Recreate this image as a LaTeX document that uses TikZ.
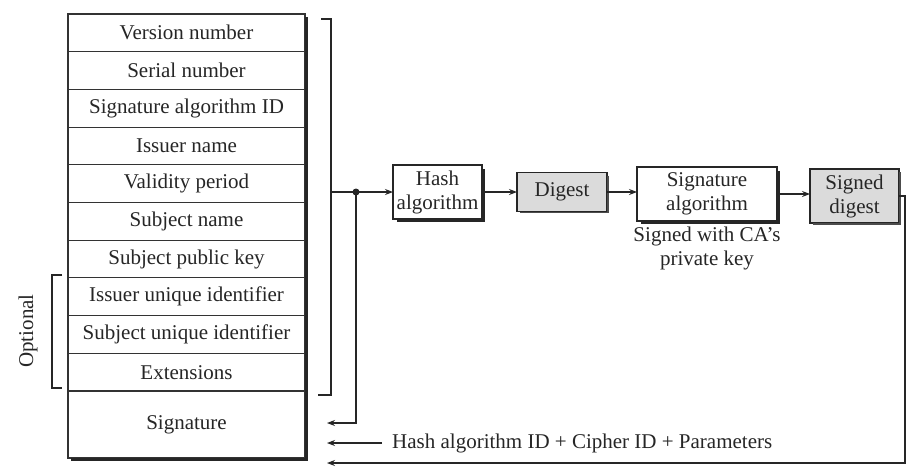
\documentclass[tikz,border=0pt]{standalone}
\usepackage{fontspec}
\setmainfont{Liberation Serif}
\usetikzlibrary{arrows.meta,calc}
\begin{document}
\begin{tikzpicture}[x=1pt,y=-1pt,
  font=\fontsize{21}{24}\selectfont,
  every node/.style={text=black!85},
  row/.style={draw=black!80, line width=1.1pt, minimum width=237pt, minimum height=37.7pt, inner sep=0pt, outer sep=0pt, anchor=north west},
  proc/.style={draw=black!85, line width=1.1pt, align=center, inner sep=0pt, outer sep=0pt, minimum height=54pt},
  shadedbox/.style={proc, fill=black!14},
  shadowline/.style={draw=black!85, line width=2.6pt},
  conn/.style={draw=black!85, line width=1.1pt},
  arr/.style={conn, -{Stealth[length=8pt,width=6pt]}},
  dotnode/.style={circle, fill=black!85, inner sep=0pt, minimum size=7pt}
]
\useasboundingbox (0,0) rectangle (920,472);
\fill[white] (0,0) rectangle (920,472);

% certificate table
\node[row] (r1) at (68,14) {Version number};
\node[row] (r2) at (r1.south west) {Serial number};
\node[row] (r3) at (r2.south west) {Signature algorithm ID};
\node[row] (r4) at (r3.south west) {Issuer name};
\node[row] (r5) at (r4.south west) {Validity period};
\node[row] (r6) at (r5.south west) {Subject name};
\node[row] (r7) at (r6.south west) {Subject public key};
\node[row] (r8) at (r7.south west) {Issuer unique identifier};
\node[row] (r9) at (r8.south west) {Subject unique identifier};
\node[row] (r10) at (r9.south west) {Extensions};
\node[row, minimum height=67pt] (r11) at (r10.south west) {Signature};
\draw[shadowline] ($(r1.north east)+(1.2,3)$) -- ($(r11.south east)+(1.2,1.2)$) -- ($(r11.south west)+(3,1.2)$);

% optional bracket
\coordinate (o1) at (62,275);
\coordinate (o2) at (52,275);
\coordinate (o3) at (52,388);
\coordinate (o4) at (62,388);
\draw[conn] (o1) -- (o2) -- (o3) -- (o4);
\node[rotate=90] (opt) at (28,331) {Optional};

% right bracket
\coordinate (b1) at (321,19);
\coordinate (b2) at (331,19);
\coordinate (b3) at (331,395);
\coordinate (b4) at (318,395);
\draw[conn] (b1) -- (b2) -- (b3) -- (b4);

% processing chain
\node[proc, minimum width=89pt] (hash) at (437.5,192) {Hash\\algorithm};
\node[shadedbox, minimum width=90pt, minimum height=39pt] (dig) at (562,192) {Digest};
\node[proc, minimum width=140pt] (sig) at (707,194) {Signature\\algorithm};
\node[shadedbox, minimum width=89pt] (sd) at (854.5,196) {Signed\\digest};
\draw[shadowline] ($(hash.north east)+(1.3,4)$) -- ($(hash.south east)+(1.3,1.3)$) -- ($(hash.south west)+(4,1.3)$);
\draw[shadowline] ($(sig.north east)+(1.3,4)$) -- ($(sig.south east)+(1.3,1.3)$) -- ($(sig.south west)+(4,1.3)$);
\draw[draw=black!70, line width=1.6pt] ($(dig.north east)+(0.8,3)$) -- ($(dig.south east)+(0.8,0.8)$) -- ($(dig.south west)+(3,0.8)$);
\draw[draw=black!70, line width=1.6pt] ($(sd.north east)+(0.8,3)$) -- ($(sd.south east)+(0.8,0.8)$) -- ($(sd.south west)+(3,0.8)$);

\node[anchor=north, align=center, inner sep=2pt] (note) at (707,225) {Signed with CA's\\private key};

\coordinate (bj) at (331,192);
\node[dotnode] (dot) at (356,192) {};
\draw[arr] (bj) -- (hash.west);
\draw[arr] (hash.east) -- (hash.east -| dig.west);
\draw[arr] (dig.east) -- (dig.east -| sig.west);
\draw[arr] (sig.east) -- (sig.east -| sd.west);

% return paths
\coordinate (ret1) at (327,423);
\draw[arr] (dot.center) |- (ret1);

\node[anchor=west, inner sep=2pt] (lbl) at (390,443) {Hash algorithm ID + Cipher ID + Parameters};
\coordinate (ret2) at (327,443);
\draw[arr] ([xshift=-8pt]lbl.west) -- (ret2);

\coordinate (c1) at (905,196);
\coordinate (ret3) at (327,463);
\draw[arr] (sd.east) -- (c1) |- (ret3);
\end{tikzpicture}
\end{document}
